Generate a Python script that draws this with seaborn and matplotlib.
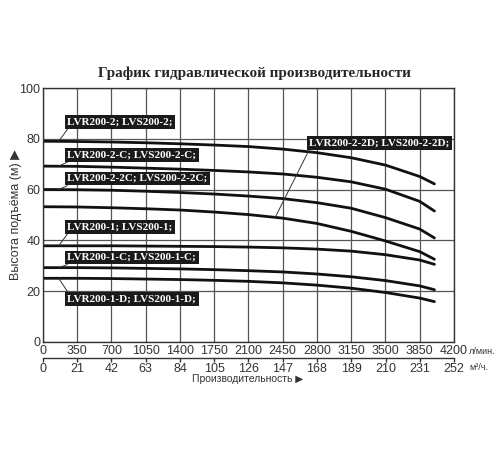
import numpy as np
import pandas as pd
import matplotlib
matplotlib.use("Agg")
import matplotlib.pyplot as plt
import seaborn as sns

# flow points (l/min) and head values (m)
flow = [0, 350, 700, 1050, 1400, 1750, 2100, 2450, 2800, 3150, 3500, 3850, 4000]
head_2 = [79.1, 79.0, 78.8, 78.5, 78.1, 77.6, 77.0, 76.0, 74.6, 72.6, 69.7, 65.2, 62.3]
head_2c = [69.3, 69.2, 68.9, 68.5, 68.1, 67.6, 67.0, 66.2, 64.9, 63.1, 60.2, 55.4, 51.6]
head_2_2c = [60.1, 60.0, 59.8, 59.4, 58.9, 58.3, 57.5, 56.5, 54.9, 52.7, 49.0, 44.5, 41.0]
head_2_2d = [53.3, 53.2, 52.9, 52.5, 52.0, 51.2, 50.2, 48.8, 46.7, 43.6, 39.8, 35.6, 32.6]
head_1 = [37.9, 37.9, 37.9, 37.8, 37.7, 37.6, 37.4, 37.1, 36.6, 35.8, 34.4, 32.3, 30.6]
head_1c = [29.3, 29.3, 29.2, 29.0, 28.8, 28.5, 28.1, 27.6, 26.8, 25.7, 24.2, 22.1, 20.6]
head_1d = [25.1, 25.1, 25.0, 24.8, 24.6, 24.3, 23.9, 23.3, 22.4, 21.2, 19.5, 17.3, 15.9]

models = ["LVR200-2; LVS200-2;", "LVR200-2-C; LVS200-2-C;",
          "LVR200-2-2C; LVS200-2-2C;", "LVR200-2-2D; LVS200-2-2D;",
          "LVR200-1; LVS200-1;", "LVR200-1-C; LVS200-1-C;",
          "LVR200-1-D; LVS200-1-D;"]
heads = [head_2, head_2c, head_2_2c, head_2_2d, head_1, head_1c, head_1d]

# label box positions (flow, head) and leader end on the curve
label_pos = [(250, 86.6), (250, 73.7), (250, 64.4), (2720, 78.5),
             (250, 45.4), (250, 33.3), (250, 17.1)]
leader_end = [(160, 79.1), (160, 69.3), (160, 60.1), (2370, 48.9),
              (160, 37.9), (160, 29.3), (160, 25.1)]

flow_ticks = list(range(0, 4201, 350))
m3_ticks = list(range(0, 253, 21))

df = pd.DataFrame({
    "flow": flow * len(models),
    "head": sum(heads, []),
    "model": sum([[m] * len(flow) for m in models], []),
})

sns.set_style("white")
plt.rcParams['font.family'] = ['Liberation Sans', 'DejaVu Sans']

fig = plt.figure(figsize=(5, 4.5), dpi=100)
ax = fig.add_axes([0.086, 0.24, 0.822, 0.564])

sns.lineplot(data=df, x="flow", y="head", hue="model", estimator=None,
             palette=["#111111"] * len(models), linewidth=2, legend=False, ax=ax)

ax.set_xlim(0, 4200)
ax.set_ylim(0, 100)
ax.set_xticks(flow_ticks)
ax.set_yticks(range(0, 101, 20))
ax.grid(True, color="#555555", linewidth=0.9)
ax.set_axisbelow(True)
for sp in ax.spines.values():
    sp.set_color("#333333")
    sp.set_linewidth(1)
ax.tick_params(axis="both", length=0, labelsize=9, labelcolor="#333333", pad=2)
ax.set_xlabel("")
ax.set_ylabel("Высота подъёма (м) ▶", fontsize=9, color="#333333",
              family=['Liberation Sans', 'DejaVu Sans'])
ax.yaxis.set_label_coords(-0.05, 0.5)

# second flow scale in m3/h
sec = ax.secondary_xaxis(-0.062, functions=(lambda q: q / (4200 / 252),
                                            lambda m: m * (4200 / 252)))
sec.set_xticks(m3_ticks)
sec.tick_params(length=3, width=1, labelsize=9, labelcolor="#333333",
                color="#333333", pad=1)
sec.spines["bottom"].set_color("#333333")
sec.spines["bottom"].set_linewidth(1)

fig.text(469 / 500, 1 - 351 / 450, "л/мин.", fontsize=6.5, color="#333333", va="center")
fig.text(469 / 500, 1 - 367 / 450, "м³/ч.", fontsize=6.5, color="#333333", va="center")
fig.text(248 / 500, 1 - 379 / 450, "Производительность ▶", fontsize=7.5, color="#333333",
         ha="center", va="center", family=['Liberation Sans', 'DejaVu Sans'])

fig.text(254 / 500, 1 - 73 / 450, "График гидравлической производительности",
         fontsize=10.9, fontweight="bold", ha="center", va="center",
         family=['Liberation Serif', 'DejaVu Serif'])

for name, (lx, ly), (ex, ey) in zip(models, label_pos, leader_end):
    edge = ly - 2.8 if ly > ey else ly + 2.8
    ax.plot([lx, ex], [edge, ey], color="#333333", linewidth=0.7)
    ax.text(lx, ly, name, fontsize=8, fontweight="bold", color="white",
            family=['Liberation Serif', 'DejaVu Serif'], va="center", ha="left",
            bbox=dict(boxstyle="square,pad=0.22", fc="#1a1a1a", ec="none"))

fig.savefig("out.png", dpi=100)
